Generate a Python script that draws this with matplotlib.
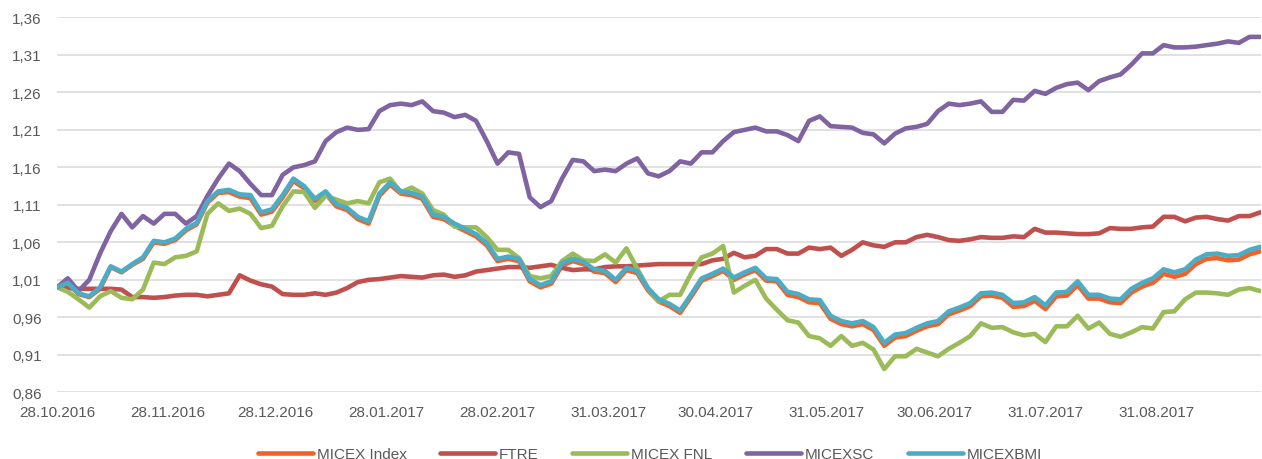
import numpy as np
import pandas as pd
import matplotlib
matplotlib.use('Agg')
import matplotlib.pyplot as plt
import matplotlib.dates as mdates
from matplotlib.ticker import FuncFormatter

plt.rcParams['font.family'] = ['Liberation Sans', 'DejaVu Sans']

# Sample dates (every 3 calendar days from 28.10.2016)
dates = pd.date_range('2016-10-28', periods=113, freq='3D')

micex_index = [
    1.000, 1.005, 0.991, 0.987, 0.998, 1.027, 1.020, 1.030, 1.038, 1.060,
    1.058, 1.063, 1.076, 1.084, 1.113, 1.126, 1.127, 1.121, 1.119, 1.097,
    1.101, 1.120, 1.142, 1.132, 1.115, 1.125, 1.108, 1.103, 1.091, 1.085,
    1.122, 1.137, 1.125, 1.123, 1.118, 1.094, 1.091, 1.082, 1.075, 1.068,
    1.056, 1.035, 1.038, 1.035, 1.008, 1.000, 1.005, 1.029, 1.035, 1.031,
    1.021, 1.019, 1.007, 1.023, 1.019, 0.996, 0.981, 0.975, 0.966, 0.987,
    1.009, 1.015, 1.022, 1.010, 1.017, 1.023, 1.009, 1.008, 0.990, 0.987,
    0.980, 0.979, 0.958, 0.951, 0.948, 0.951, 0.943, 0.922, 0.933, 0.935,
    0.942, 0.948, 0.951, 0.964, 0.969, 0.975, 0.988, 0.989, 0.986, 0.974,
    0.975, 0.982, 0.971, 0.988, 0.989, 1.003, 0.985, 0.985, 0.980, 0.979,
    0.993, 1.001, 1.006, 1.018, 1.014, 1.018, 1.031, 1.038, 1.039, 1.036,
    1.037, 1.044, 1.048,
]

ftre = [
    1.000, 0.999, 0.998, 0.998, 0.998, 0.998, 0.997, 0.987, 0.987, 0.986,
    0.987, 0.989, 0.990, 0.990, 0.988, 0.990, 0.992, 1.016, 1.009, 1.004,
    1.001, 0.991, 0.990, 0.990, 0.992, 0.990, 0.993, 0.999, 1.007, 1.010,
    1.011, 1.013, 1.015, 1.014, 1.013, 1.016, 1.017, 1.014, 1.016, 1.021,
    1.023, 1.025, 1.027, 1.027, 1.026, 1.028, 1.030, 1.026, 1.023, 1.024,
    1.024, 1.027, 1.028, 1.028, 1.029, 1.030, 1.031, 1.031, 1.031, 1.031,
    1.031, 1.036, 1.038, 1.046, 1.040, 1.042, 1.051, 1.051, 1.045, 1.045,
    1.053, 1.051, 1.053, 1.042, 1.050, 1.060, 1.056, 1.054, 1.060, 1.060,
    1.067, 1.070, 1.067, 1.063, 1.062, 1.064, 1.067, 1.066, 1.066, 1.068,
    1.067, 1.078, 1.073, 1.073, 1.072, 1.071, 1.071, 1.072, 1.079, 1.078,
    1.078, 1.080, 1.081, 1.094, 1.094, 1.088, 1.093, 1.094, 1.091, 1.089,
    1.095, 1.095, 1.100,
]

micex_fnl = [
    1.000, 0.994, 0.984, 0.973, 0.988, 0.995, 0.986, 0.984, 0.997, 1.033,
    1.031, 1.040, 1.042, 1.048, 1.098, 1.112, 1.102, 1.105, 1.098, 1.079,
    1.082, 1.108, 1.128, 1.127, 1.106, 1.122, 1.117, 1.112, 1.115, 1.112,
    1.140, 1.145, 1.127, 1.133, 1.125, 1.103, 1.097, 1.081, 1.080, 1.080,
    1.067, 1.050, 1.050, 1.039, 1.015, 1.012, 1.015, 1.035, 1.045, 1.036,
    1.035, 1.044, 1.033, 1.052, 1.025, 0.999, 0.981, 0.990, 0.990, 1.018,
    1.040, 1.045, 1.055, 0.993, 1.002, 1.010, 0.985, 0.970, 0.956, 0.953,
    0.935, 0.932, 0.922, 0.935, 0.922, 0.926, 0.917, 0.891, 0.908, 0.908,
    0.918, 0.913, 0.908, 0.918, 0.926, 0.935, 0.952, 0.946, 0.947, 0.940,
    0.936, 0.938, 0.927, 0.948, 0.948, 0.962, 0.945, 0.953, 0.938, 0.934,
    0.940, 0.947, 0.945, 0.967, 0.968, 0.984, 0.993, 0.993, 0.992, 0.990,
    0.997, 0.999, 0.995,
]

micexsc = [
    1.000, 1.012, 0.995, 1.010, 1.045, 1.075, 1.098, 1.080, 1.095, 1.085,
    1.098, 1.098, 1.085, 1.095, 1.122, 1.145, 1.165, 1.155, 1.138, 1.123,
    1.123, 1.150, 1.160, 1.163, 1.168, 1.195, 1.207, 1.213, 1.210, 1.211,
    1.235, 1.243, 1.245, 1.243, 1.248, 1.235, 1.233, 1.227, 1.230, 1.222,
    1.195, 1.165, 1.180, 1.178, 1.120, 1.107, 1.115, 1.145, 1.170, 1.168,
    1.155, 1.157, 1.155, 1.165, 1.172, 1.152, 1.148, 1.155, 1.168, 1.165,
    1.180, 1.180, 1.195, 1.207, 1.210, 1.213, 1.208, 1.208, 1.203, 1.195,
    1.222, 1.228, 1.215, 1.214, 1.213, 1.206, 1.204, 1.192, 1.205, 1.212,
    1.214, 1.218, 1.235, 1.245, 1.243, 1.245, 1.248, 1.234, 1.234, 1.250,
    1.249, 1.262, 1.258, 1.266, 1.271, 1.273, 1.263, 1.275, 1.280, 1.284,
    1.297, 1.312, 1.312, 1.323, 1.320, 1.320, 1.321, 1.323, 1.325, 1.328,
    1.326, 1.334, 1.334,
]

micexbmi = [
    1.000, 1.006, 0.992, 0.988, 1.000, 1.028, 1.021, 1.031, 1.040, 1.062,
    1.060, 1.065, 1.078, 1.086, 1.115, 1.128, 1.130, 1.124, 1.123, 1.100,
    1.104, 1.123, 1.145, 1.135, 1.118, 1.128, 1.111, 1.106, 1.094, 1.088,
    1.125, 1.140, 1.128, 1.126, 1.121, 1.097, 1.094, 1.085, 1.078, 1.071,
    1.059, 1.038, 1.041, 1.038, 1.011, 1.003, 1.008, 1.032, 1.038, 1.034,
    1.024, 1.022, 1.010, 1.026, 1.022, 0.999, 0.984, 0.978, 0.969, 0.990,
    1.012, 1.018, 1.025, 1.013, 1.020, 1.026, 1.012, 1.011, 0.994, 0.991,
    0.984, 0.983, 0.962, 0.955, 0.952, 0.955, 0.947, 0.926, 0.937, 0.939,
    0.946, 0.952, 0.955, 0.968, 0.973, 0.979, 0.992, 0.993, 0.990, 0.979,
    0.980, 0.987, 0.976, 0.993, 0.994, 1.008, 0.990, 0.990, 0.985, 0.984,
    0.998, 1.006, 1.012, 1.024, 1.020, 1.024, 1.037, 1.044, 1.045, 1.042,
    1.043, 1.050, 1.054,
]

series = [
    ('MICEX Index', micex_index, '#F0622A'),
    ('FTRE', ftre, '#C0504D'),
    ('MICEX FNL', micex_fnl, '#9BBB59'),
    ('MICEXSC', micexsc, '#8064A2'),
    ('MICEXBMI', micexbmi, '#4BACC6'),
]

tick_dates = ['2016-10-28', '2016-11-28', '2016-12-28', '2017-01-28',
              '2017-02-28', '2017-03-31', '2017-04-30', '2017-05-31',
              '2017-06-30', '2017-07-31', '2017-08-31']

yticks = [0.86, 0.91, 0.96, 1.01, 1.06, 1.11, 1.16, 1.21, 1.26, 1.31, 1.36]

# Figure ########################################################
fig, ax = plt.subplots(figsize=(12.62, 4.6), dpi=100)
fig.subplots_adjust(left=0.0452, right=0.9995, top=0.960, bottom=0.145)

for name, vals, col in series:
    ax.plot(dates, vals, color=col, linewidth=3.3, label=name,
            solid_capstyle='round', solid_joinstyle='round')

ax.set_ylim(0.86, 1.36)
ax.set_yticks(yticks)
ax.yaxis.set_major_formatter(
    FuncFormatter(lambda v, p: f'{v:.2f}'.replace('.', ',')))

ax.set_xlim(pd.Timestamp('2016-10-28'),
            pd.Timestamp('2016-10-28') + pd.Timedelta(days=336.3))
ax.set_xticks(pd.to_datetime(tick_dates))
ax.xaxis.set_major_formatter(mdates.DateFormatter('%d.%m.%Y'))

ax.grid(axis='y', color='#D9D9D9', linewidth=1.1)
ax.set_axisbelow(True)
for s in ax.spines.values():
    s.set_visible(False)
ax.tick_params(axis='both', length=0, labelsize=11, colors='#595959')
ax.tick_params(axis='y', pad=11)
ax.tick_params(axis='x', pad=9)

ax.legend(loc='center', bbox_to_anchor=(0.515, 0.011),
          bbox_transform=fig.transFigure, ncol=5, frameon=False,
          fontsize=11, handlelength=3.6, handletextpad=0.25,
          columnspacing=2.2, labelcolor='#595959')

fig.savefig('out.png', dpi=100)
